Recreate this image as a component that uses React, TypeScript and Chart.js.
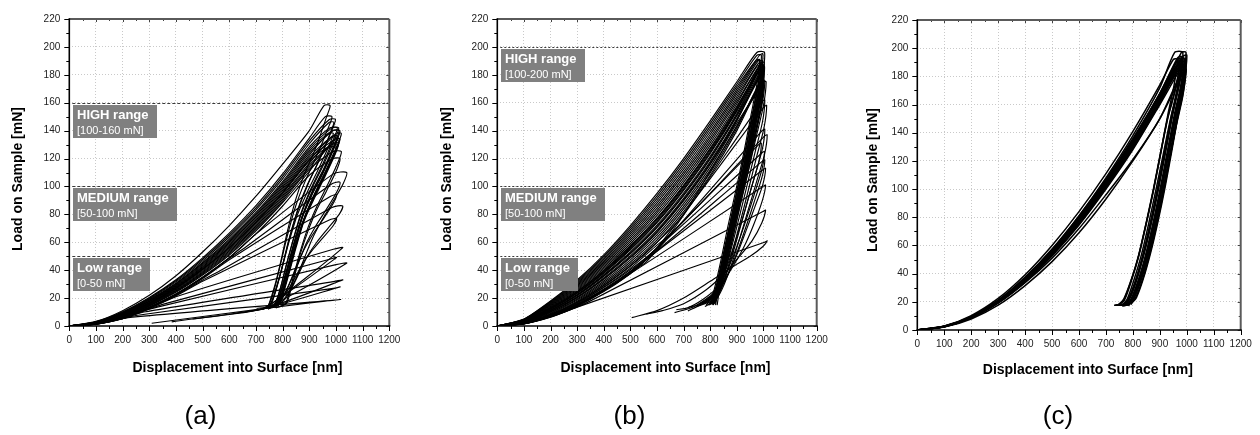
import React, { useEffect, useRef } from 'react';
import { Chart, registerables } from 'chart.js';

Chart.register(...registerables);

type Pt = [number, number];

// ---------------- shared text / axis values ----------------
const xAxisTitle = 'Displacement into Surface [nm]';
const yAxisTitle = 'Load on Sample [mN]';
const xMin = 0;
const xMax = 1200;
const xStep = 100;
const yMin = 0;
const yMax = 220;
const yStep = 20;
const rangeTitles = ['HIGH range', 'MEDIUM range', 'Low range'];
const rangeLevelsA = [160, 100, 50];
const rangeSpansA = ['[100-160 mN]', '[50-100 mN]', '[0-50 mN]'];
const rangeLevelsB = [200, 100, 50];
const rangeSpansB = ['[100-200 mN]', '[50-100 mN]', '[0-50 mN]'];
const panelLetters = ['(a)', '(b)', '(c)'];

// ---------------- panel (a) curves: [displacement nm, load mN] ----------------
const a01: Pt[] = [[0,0],[100,3.3],[200,11],[300,22],[400,36],[500,53],[600,72],[700,93],[800,116],[900,140],[955,158],[978,158],[965,150],[925,128],[882,109],[848,90],[818,68],[794,47],[775,32],[758,21],[746,14]];
const a02: Pt[] = [[0,0],[100,2.95],[200,9.8],[300,19.9],[400,32.4],[500,47.8],[600,65.2],[700,84.7],[800,107.3],[900,132.7],[975,148],[998,148],[984,140],[940,120],[896,102],[859,84],[827,64],[801,44],[781,30],[764,19],[752,14]];
const a03: Pt[] = [[0,0],[100,2.7],[200,9.15],[300,18.8],[400,30.7],[500,45.5],[600,62.3],[700,81.4],[800,103.5],[900,128.3],[978,142],[1010,142],[996,134],[952,115],[908,98],[871,81],[839,61],[813,43],[793,28],[776,18],[762,13]];
const a04: Pt[] = [[0,0],[100,2.5],[200,8.7],[300,18],[400,29.6],[500,44],[600,60.4],[700,79.2],[800,101],[900,125.4],[985,140],[1015,140],[1001,132],[957,113],[913,97],[876,80],[844,60],[818,42],[798,28],[781,18],[767,14]];
const a05: Pt[] = [[0,0],[100,2.35],[200,8.25],[300,17.3],[400,28.5],[500,42.5],[600,58.5],[700,77],[800,98.5],[900,122.5],[972,138],[990,138],[976,130],[933,112],[890,95],[854,79],[822,59],[797,41],[777,28],[760,18],[746,13]];
const a06: Pt[] = [[0,0],[100,2.27],[200,8.03],[300,16.9],[400,27.95],[500,41.75],[600,57.55],[700,75.9],[800,97.25],[900,121],[980,135],[1005,135],[991,127],[949,109],[907,93],[871,77],[840,58],[815,40],[796,27],[779,17],[766,13]];
const a07: Pt[] = [[0,0],[100,2.18],[200,7.8],[300,16.5],[400,27.4],[500,41],[600,56.6],[700,74.8],[800,96],[900,119.6],[990,133],[1012,133],[998,125],[956,108],[914,92],[879,76],[849,57],[825,40],[806,27],[790,17],[782,14]];
const a08: Pt[] = [[0,0],[100,2.1],[200,7.6],[300,16.1],[400,26.85],[500,40.25],[600,55.65],[700,73.7],[800,94.75],[900,118.15],[985,130],[1005,130],[992,122],[951,105],[910,90],[875,74],[845,56],[821,39],[802,26],[786,17],[772,13]];
const a09: Pt[] = [[0,0],[100,2.01],[200,7.35],[300,15.75],[400,26.3],[500,39.5],[600,54.7],[700,72.6],[800,93.5],[900,116.7],[1000,138],[1020,138],[1006,130],[963,112],[920,95],[884,79],[852,59],[827,41],[807,28],[790,18],[782,15]];
const a10: Pt[] = [[0,0],[100,1.93],[200,7.1],[300,15.4],[400,25.75],[500,38.75],[600,53.75],[700,71.5],[800,92.25],[900,115.25],[990,131],[1010,131],[997,123],[956,106],[915,90],[880,75],[850,56],[826,39],[807,26],[791,17],[745,12]];
const a11: Pt[] = [[0,0],[100,1.84],[200,6.9],[300,15],[400,25.2],[500,38],[600,52.8],[700,70.4],[800,91],[900,113.8],[975,128],[1000,128],[987,120],[947,104],[907,88],[873,73],[844,55],[820,38],[802,26],[786,17],[762,13]];
const a12: Pt[] = [[0,0],[100,1.76],[200,6.7],[300,14.6],[400,24.65],[500,37.25],[600,51.85],[700,69.3],[800,89.75],[900,112.35],[990,125],[1020,125],[1007,117],[968,101],[929,86],[896,71],[867,54],[844,38],[826,25],[811,16],[790,14]];
const a13: Pt[] = [[0,0],[100,1.67],[200,6.45],[300,14.25],[400,24.1],[500,36.5],[600,50.9],[700,68.2],[800,88.5],[900,110.9],[995,134],[1015,134],[1001,126],[959,109],[917,92],[881,76],[850,58],[825,40],[806,27],[790,17],[726,12]];
const a14: Pt[] = [[0,0],[100,1.5],[200,6],[300,13.5],[400,23],[500,35],[600,49],[700,66],[800,86],[900,108],[990,120],[1015,120],[1003,112],[965,97],[927,83],[895,68],[867,52],[845,36],[828,24],[814,16],[775,13]];
const a15: Pt[] = [[0,0],[100,1.5],[200,6],[300,13.5],[400,23],[500,35],[600,49],[700,66],[990,109],[1040,110],[1027,102],[985,88],[945,75],[910,62],[878,47],[850,34],[822,24],[795,17],[765,14]];
const a16: Pt[] = [[0,0],[100,1.5],[200,6],[300,13.4],[400,22.8],[500,34.6],[600,48.5],[650,55],[985,102],[1015,103],[1003,96],[962,83],[922,71],[888,59],[857,44],[830,32],[805,22],[782,16],[762,14]];
const a17: Pt[] = [[0,0],[100,1.45],[200,5.9],[300,13.2],[400,22.5],[500,34],[600,47.5],[980,93],[1002,94],[990,88],[950,76],[911,65],[878,54],[848,41],[822,29],[798,20],[776,15],[752,13]];
const a18: Pt[] = [[0,0],[100,1.4],[200,5.8],[300,13],[400,22],[500,33],[550,38],[985,85],[1025,86],[1012,80],[970,70],[928,60],[893,50],[862,38],[834,27],[808,19],[782,15],[742,13]];
const a19: Pt[] = [[0,0],[100,1.4],[200,5.7],[300,12.8],[400,21.5],[500,32],[975,76],[1002,77],[990,72],[950,63],[910,54],[876,45],[845,34],[817,25],[790,18],[762,14],[722,12]];
const a20: Pt[] = [[0,0],[100,1.4],[200,5.6],[300,12.5],[400,21],[990,55],[1025,56],[745,14],[702,12.7]];
const a21: Pt[] = [[0,0],[100,1.35],[200,5.5],[300,12.2],[350,15.5],[980,48],[1002,49],[732,13],[659,10]];
const a22: Pt[] = [[0,0],[100,1.3],[200,5.4],[300,12],[330,13.5],[1000,44],[1040,45],[737,13],[615,9]];
const a23: Pt[] = [[0,0],[100,1.3],[200,5.3],[280,10],[995,32],[1025,33],[722,12],[462,5]];
const a24: Pt[] = [[0,0],[100,1.25],[200,5.2],[250,7.5],[990,27],[1015,28],[716,12],[384,3]];
const a25: Pt[] = [[0,0],[100,1.2],[220,6],[995,18.5],[1017,19],[750,13],[309,2]];
const a26: Pt[] = [[0,0],[100,3.06],[200,10.14],[300,20.4],[400,33.1],[500,48.8],[600,66.5],[700,86.2],[800,109],[900,134.7],[960,150],[985,150],[971,142],[928,122],[885,104],[849,86],[818,65],[793,45],[774,30],[757,19],[745,14]];
const a27: Pt[] = [[0,0],[100,2.83],[200,9.51],[300,19.35],[400,31.6],[500,46.7],[600,63.8],[700,83.2],[800,105.5],[900,130.6],[975,146],[992,146],[978,138],[935,118],[892,101],[856,83],[825,63],[800,44],[780,29],[763,19],[750,14]];
const a28: Pt[] = [[0,0],[100,2.6],[200,8.93],[300,18.4],[400,30.15],[500,44.75],[600,61.35],[700,80.3],[800,102.25],[900,126.85],[985,142],[1005,142],[991,134],[948,115],[905,98],[869,81],[838,61],[813,43],[793,28],[777,18],[765,13]];
const a29: Pt[] = [[0,0],[100,2.44],[200,8.48],[300,17.6],[400,29.05],[500,43.25],[600,59.45],[700,78.1],[800,99.75],[900,123.95],[990,140],[1012,140],[998,132],[955,113],[912,97],[876,80],[845,60],[820,42],[800,28],[784,18],[771,14]];
const a30: Pt[] = [[0,0],[100,2.15],[200,7.71],[300,16.35],[400,27.2],[500,40.7],[600,56.2],[700,74.4],[800,95.5],[900,119],[985,136],[1008,136],[994,128],[952,110],[910,94],[875,78],[845,58],[820,41],[801,27],[785,17],[758,13]];

// ---------------- panel (b) curves ----------------
const b01: Pt[] = [[0,0],[100,5],[200,18],[300,33],[400,51],[500,72],[600,95],[700,120],[800,147],[900,175],[975,196],[1004,196],[995,178],[972,155],[945,128],[915,100],[885,72],[858,47],[835,28],[818,16]];
const b02: Pt[] = [[0,0],[100,4.7],[200,17],[300,31.4],[400,48.8],[500,69.1],[600,91.5],[700,116.2],[800,143.1],[900,171.5],[970,190],[985,191],[976,174],[953,151],[926,124],[896,97],[866,71],[839,46],[816,27],[799,16]];
const b03: Pt[] = [[0,0],[100,4.4],[200,16],[300,29.8],[400,46.6],[500,66.2],[600,88],[700,112.4],[800,139.2],[900,168],[975,190],[990,190],[981,173],[958,150],[931,124],[901,97],[871,70],[844,46],[821,27],[804,16]];
const b04: Pt[] = [[0,0],[100,4.1],[200,15],[300,28.2],[400,44.4],[500,63.3],[600,84.5],[700,108.6],[800,135.3],[900,164.5],[980,188],[995,189],[986,172],[963,149],[936,123],[906,96],[876,70],[849,45],[826,26],[809,16]];
const b05: Pt[] = [[0,0],[100,3.8],[200,14],[300,26.6],[400,42.2],[500,60.4],[600,81],[700,104.8],[800,131.4],[900,161],[985,186],[998,186],[989,169],[966,147],[939,121],[909,95],[879,69],[852,45],[829,26],[812,16]];
const b06: Pt[] = [[0,0],[100,3.5],[200,13],[300,25],[400,40],[500,57.5],[600,77.5],[700,101],[800,127.5],[900,157.5],[985,184],[998,185],[989,168],[966,146],[939,120],[909,94],[879,68],[852,44],[829,26],[812,15]];
const b07: Pt[] = [[0,0],[100,3.35],[200,12.5],[300,24.2],[400,38.9],[500,56.05],[600,75.75],[700,99.1],[800,125.55],[900,155.75],[990,188],[1003,189],[994,172],[971,149],[944,123],[914,96],[884,70],[857,45],[834,26],[817,16]];
const b08: Pt[] = [[0,0],[100,3.2],[200,12],[300,23.4],[400,37.8],[500,54.6],[600,74],[700,97.2],[800,123.6],[900,154],[980,182],[990,183],[981,167],[958,145],[931,119],[901,93],[871,68],[844,44],[821,26],[790,16]];
const b09: Pt[] = [[0,0],[100,3.05],[200,11.5],[300,22.6],[400,36.7],[500,53.15],[600,72.25],[700,95.3],[800,121.65],[900,152.25],[990,185],[1000,186],[991,169],[968,147],[941,121],[911,95],[881,69],[854,45],[831,26],[780,16]];
const b10: Pt[] = [[0,0],[100,2.9],[200,11],[300,21.8],[400,35.6],[500,51.7],[600,70.5],[700,93.4],[800,119.7],[900,150.5],[990,180],[1002,181],[993,165],[970,143],[943,118],[913,92],[883,67],[856,43],[833,25],[816,17]];
const b11: Pt[] = [[0,0],[100,2.75],[200,10.5],[300,21],[400,34.5],[500,50.25],[600,68.75],[700,91.5],[800,117.75],[900,148.75],[980,178],[992,178],[983,162],[960,141],[933,116],[903,91],[873,66],[846,43],[823,25],[770,16]];
const b12: Pt[] = [[0,0],[100,2.6],[200,10],[300,20.2],[400,33.4],[500,48.8],[600,67],[700,89.6],[800,115.8],[900,147],[985,180],[995,181],[986,165],[963,143],[936,118],[906,92],[876,67],[849,43],[826,25],[809,16]];
const b13: Pt[] = [[0,0],[100,2.3],[200,9],[300,18.6],[400,31.2],[500,45.9],[600,63.5],[700,85.8],[800,111.9],[900,143.5],[995,176],[1005,176],[996,160],[973,139],[946,114],[916,90],[886,65],[859,42],[836,25],[800,16]];
const b14: Pt[] = [[0,0],[100,2],[200,8],[300,17],[400,29],[500,43],[600,60],[700,82],[800,108],[900,140],[990,175],[1000,175],[991,159],[968,138],[941,114],[911,89],[881,65],[854,42],[831,25],[762,16]];
const b15: Pt[] = [[0,0],[100,2],[200,8],[300,17],[400,29],[500,43],[600,60],[700,80],[1000,175],[1010,175],[1000,158],[972,135],[942,110],[911,85],[879,58],[850,36],[827,22],[820,15]];
const b16: Pt[] = [[0,0],[100,1.9],[200,7.8],[300,16.5],[400,28],[500,41.5],[600,58],[650,66],[995,161],[1005,162],[996,146],[969,125],[940,102],[909,78],[877,54],[848,34],[825,21],[806,15]];
const b17: Pt[] = [[0,0],[100,1.9],[200,7.6],[300,16],[400,27.5],[500,40.5],[600,56],[1002,157],[1012,158],[1002,142],[974,121],[944,98],[912,74],[880,51],[850,32],[825,20],[796,15]];
const b18: Pt[] = [[0,0],[100,1.8],[200,7.4],[300,15.6],[400,26.5],[500,39],[560,46],[995,140],[1005,141],[996,127],[968,108],[938,88],[906,66],[874,45],[844,28],[814,18],[780,14]];
const b19: Pt[] = [[0,0],[100,1.8],[200,7.2],[300,15.2],[400,26],[530,42],[1004,136],[1014,137],[1004,123],[975,104],[944,84],[911,63],[878,43],[846,27],[818,18],[790,15]];
const b20: Pt[] = [[0,0],[100,1.7],[200,7],[300,15],[400,25.5],[500,37.5],[982,130],[992,131],[983,118],[956,100],[926,80],[893,60],[860,41],[826,26],[790,17],[750,14]];
const b21: Pt[] = [[0,0],[100,1.7],[200,6.9],[300,14.6],[460,32],[995,118],[1005,119],[995,107],[967,90],[936,72],[903,54],[867,37],[828,24],[772,16],[720,13.6]];
const b22: Pt[] = [[0,0],[100,1.6],[200,6.8],[300,14.3],[430,29],[998,112],[1008,113],[997,101],[967,85],[934,68],[900,51],[862,35],[820,23],[762,15],[716,10.8]];
const b23: Pt[] = [[0,0],[100,1.6],[200,6.6],[300,14],[400,25],[998,100],[1008,101],[996,90],[962,72],[925,56],[880,41],[830,28],[772,19],[715,13],[673,11.7]];
const b24: Pt[] = [[0,0],[100,1.5],[200,6.4],[300,13.6],[350,18],[998,82],[1008,83],[994,74],[957,61],[910,50],[855,38],[785,26],[700,16],[620,11],[560,8.4]];
const b25: Pt[] = [[0,0],[100,1.5],[200,6.3],[300,13.5],[1004,60],[1014,61],[998,57],[950,50],[880,42],[800,32],[700,20],[600,11],[505,6]];
const b26: Pt[] = [[0,0],[100,2.45],[200,9.5],[300,19.4],[400,32.3],[500,47.35],[600,65.25],[700,87.7],[800,113.85],[900,145.25],[985,170],[998,171],[988,154],[961,132],[932,108],[902,83],[870,58],[840,37],[808,22],[747,14]];
const b27: Pt[] = [[0,0],[100,1.7],[200,7.1],[300,15],[480,36],[994,124],[1004,125],[994,112],[965,94],[933,75],[898,56],[860,38],[815,24],[740,14],[666,9.6]];
const b28: Pt[] = [[0,0],[100,4.55],[200,16.5],[300,30.6],[400,47.7],[500,67.65],[600,89.75],[700,114.3],[800,141.15],[900,169.75],[985,194],[998,195],[989,177],[966,154],[939,127],[909,99],[879,72],[852,47],[829,27],[812,16]];
const b29: Pt[] = [[0,0],[100,3.95],[200,14.5],[300,27.4],[400,43.3],[500,61.85],[600,82.75],[700,106.7],[800,133.35],[900,162.75],[975,186],[988,187],[979,170],[956,148],[929,122],[899,95],[869,69],[842,45],[819,26],[802,16]];
const b30: Pt[] = [[0,0],[100,4.85],[200,17.5],[300,32.2],[400,49.9],[500,70.55],[600,93.25],[700,118.1],[800,145.05],[900,173.25],[975,194],[992,194],[983,177],[960,154],[933,127],[903,99],[873,72],[846,47],[823,27],[806,16]];
const b31: Pt[] = [[0,0],[100,4.25],[200,15.5],[300,29],[400,45.5],[500,64.75],[600,86.25],[700,110.5],[800,137.25],[900,166.25],[980,190],[996,190],[987,173],[964,150],[937,124],[907,97],[877,70],[850,46],[827,27],[810,16]];
const b32: Pt[] = [[0,0],[100,3.65],[200,13.5],[300,25.8],[400,41.1],[500,58.95],[600,79.25],[700,102.9],[800,129.45],[900,159.25],[985,187],[1000,187],[991,170],[968,148],[941,122],[911,95],[881,69],[854,45],[831,26],[814,16]];
const b33: Pt[] = [[0,0],[100,3.44],[200,12.8],[300,24.7],[400,39.56],[500,56.92],[600,76.8],[700,100.24],[800,126.72],[900,156.8],[990,186],[1004,186],[995,169],[972,147],[945,121],[915,95],[885,69],[858,45],[835,26],[826,15]];
const b34: Pt[] = [[0,0],[100,3.26],[200,12.2],[300,23.7],[400,38.24],[500,55.18],[600,74.7],[700,97.96],[800,124.38],[900,154.7],[985,184],[995,184],[986,167],[963,145],[936,120],[906,94],[876,68],[849,44],[826,26],[785,15]];
const b35: Pt[] = [[0,0],[100,2.96],[200,11.2],[300,22.1],[400,36.04],[500,52.28],[600,71.2],[700,94.16],[800,120.48],[900,151.2],[990,183],[1000,183],[991,167],[968,145],[941,119],[911,93],[881,68],[854,44],[831,26],[814,16]];
const b36: Pt[] = [[0,0],[100,2.66],[200,10.2],[300,20.5],[400,33.84],[500,49.38],[600,67.7],[700,90.36],[800,116.58],[900,147.7],[985,178],[998,178],[989,162],[966,141],[939,116],[909,91],[879,66],[852,43],[829,25],[795,16]];
const b37: Pt[] = [[0,0],[100,2.15],[200,8.5],[300,17.8],[400,30.1],[500,44.45],[600,61.75],[700,83.9],[800,109.95],[900,141.75],[990,176],[1002,176],[993,160],[970,139],[943,114],[913,90],[883,65],[856,42],[833,25],[775,16]];

// ---------------- panel (c) curves ----------------
const c01: Pt[] = [[0,0],[100,2.6],[200,9.5],[300,21],[400,37],[500,57],[600,81],[700,108],[800,138],[900,172],[955,197],[985,197],[973,176],[950,155],[925,130],[897,102],[870,77],[843,55],[815,36],[790,23],[770,18],[758,17.5]];
const c02: Pt[] = [[0,0],[100,2.4],[200,9],[300,20],[400,35],[500,54],[600,77],[700,103],[800,132],[900,164],[975,192],[990,193],[978,174],[955,154],[930,129],[902,101],[875,76],[848,54],[820,35],[795,22],[775,18],[765,17.5]];
const c03: Pt[] = [[0,0],[100,2.5],[200,9.2],[300,20.5],[400,36],[500,55],[600,78],[700,104],[800,133],[900,166],[970,190],[985,190],[970,172],[942,152],[915,127],[886,100],[858,75],[831,53],[803,35],[779,22],[759,18],[738,17.5]];
const c04: Pt[] = [[0,0],[100,2.3],[200,8.7],[300,19.5],[400,34.5],[500,53],[600,75],[700,101],[800,129],[900,161],[980,190],[995,191],[983,173],[960,153],[935,128],[907,100],[880,75],[853,53],[825,35],[800,22],[780,18],[770,17.5]];
const c05: Pt[] = [[0,0],[100,2.4],[200,9],[300,20],[400,35.5],[500,54.5],[600,77],[700,103],[800,132],[900,165],[980,197],[997,197],[987,178],[968,156],[945,130],[918,102],[891,77],[864,55],[836,36],[810,23],[790,19],[784,17]];
const c06: Pt[] = [[0,0],[100,2.5],[200,9.3],[300,20.7],[400,36.5],[500,56],[600,79],[700,105],[800,134],[900,167],[965,188],[978,188],[966,170],[943,150],[918,125],[890,98],[863,74],[836,52],[808,34],[783,22],[763,18],[750,17.5]];
const c07: Pt[] = [[0,0],[100,2.3],[200,8.6],[300,19.2],[400,34],[500,52.5],[600,74.5],[700,100],[800,128],[900,160],[985,188],[998,189],[986,171],[963,151],[938,126],[910,98],[883,74],[856,52],[828,34],[803,22],[785,18.5],[780,17.5]];
const c08: Pt[] = [[0,0],[100,2.6],[200,9.6],[300,21.2],[400,37.5],[500,57.5],[600,81],[700,107],[800,136],[900,168],[960,190],[975,191],[960,173],[932,153],[905,128],[876,100],[848,75],[821,53],[793,35],[768,22],[748,18],[730,17.5]];
const c09: Pt[] = [[0,0],[100,2.4],[200,8.9],[300,19.8],[400,35],[500,54],[600,76],[700,102],[800,130],[900,162],[985,194],[1000,195],[990,176],[970,155],[947,130],[920,102],[893,77],[866,55],[838,36],[813,23],[796,19],[792,18]];
const c10: Pt[] = [[0,0],[100,2.5],[200,9.1],[300,20.2],[400,35.8],[500,55],[600,77.5],[700,104],[800,132],[900,163],[975,186],[988,187],[976,169],[953,149],[928,124],[900,97],[873,73],[846,51],[818,34],[793,22],[773,18],[760,17.5]];
const c11: Pt[] = [[0,0],[100,2.3],[200,8.8],[300,19.6],[400,34.8],[500,53.5],[600,76],[700,101.5],[800,130],[900,162.5],[978,192],[992,192],[980,174],[957,153],[932,128],[904,100],[877,75],[850,53],[822,35],[797,22],[777,18],[768,17.5]];
const c12: Pt[] = [[0,0],[100,2.6],[200,9.4],[300,20.8],[400,36.8],[500,56.5],[600,80],[700,106],[800,135],[900,168],[965,193],[980,194],[968,175],[945,154],[920,129],[892,101],[865,76],[838,54],[810,35],[785,22],[765,18],[752,17.5]];
const c13: Pt[] = [[0,0],[100,2.3],[200,8.5],[300,19],[400,33.5],[500,51],[600,72],[700,96],[800,121],[900,150],[985,182],[995,183],[985,166],[962,146],[937,122],[909,96],[882,72],[855,51],[827,34],[802,22],[782,18],[776,17.5]];
const c14: Pt[] = [[0,0],[100,2.5],[200,9.2],[300,20.4],[400,36.2],[500,55.5],[600,78.5],[700,105],[800,134],[900,167],[968,192],[982,193],[970,175],[947,154],[922,129],[894,101],[867,76],[840,54],[812,35],[787,22],[767,18],[748,17.5]];
const c15: Pt[] = [[0,0],[100,2.4],[200,9],[300,20],[400,35.5],[500,54.5],[600,77],[700,103],[800,131],[900,163],[982,190],[994,190],[983,172],[960,152],[935,127],[907,99],[880,75],[853,53],[825,35],[800,22],[782,18],[772,17.5]];
const c16: Pt[] = [[0,0],[100,2.5],[200,9.3],[300,20.6],[400,36.4],[500,56],[600,79],[700,105.5],[800,134.5],[900,167.5],[960,187],[972,188],[957,170],[929,150],[903,125],[874,97],[846,73],[819,51],[791,34],[766,22],[746,18],[734,17.5]];
const c17: Pt[] = [[0,0],[100,2.1],[200,7.8],[300,17.6],[400,31.5],[500,48.5],[600,69],[700,93],[800,120],[900,150],[985,185],[998,185],[986,168],[963,148],[938,123],[908,95],[878,70],[850,49],[820,32],[793,21],[773,17.5],[760,17]];
const c18: Pt[] = [[0,0],[100,2.8],[200,10.2],[300,22.4],[400,39.2],[500,60],[600,84],[700,111],[800,141],[900,174],[950,192],[965,192],[953,174],[930,153],[904,127],[876,99],[848,74],[821,52],[793,34],[768,21],[748,18],[736,17.5]];

const curvesA = [a01,a02,a03,a04,a05,a06,a07,a08,a09,a10,a11,a12,a13,a14,a15,a16,a17,a18,a19,a20,a21,a22,a23,a24,a25,a26,a27,a28,a29,a30];
const curvesB = [b01,b02,b03,b04,b05,b06,b07,b08,b09,b10,b11,b12,b13,b14,b15,b16,b17,b18,b19,b20,b21,b22,b23,b24,b25,b26,b27,b28,b29,b30,b31,b32,b33,b34,b35,b36,b37];
const curvesC = [c01,c02,c03,c04,c05,c06,c07,c08,c09,c10,c11,c12,c13,c14,c15,c16,c17,c18];

// ---------------- layout (pixels, per 420x435 panel canvas) ----------------
const FONT = '"Liberation Sans", Arial, Helvetica, sans-serif';
const PANEL_W = 420;
const PANEL_H = 435;
const X_SCALE_H = 40;

interface PanelCfg {
  curves: Pt[][];
  lineWidth: number;
  levels: number[] | null;
  spans: string[] | null;
  letter: string;
  dash: number[];
  area: { left: number; right: number; top: number; bottom: number };
  yTitlePos: [number, number];
  xTitlePos: [number, number];
  letterPos: [number, number];
}

const panels: PanelCfg[] = [
  {
    curves: curvesA, lineWidth: 1.15, levels: rangeLevelsA, spans: rangeSpansA, letter: panelLetters[0], dash: [3, 2],
    area: { left: 69.3, right: 389.3, top: 19, bottom: 326 },
    yTitlePos: [18.5, 179], xTitlePos: [237.5, 368.3], letterPos: [200.5, 417],
  },
  {
    curves: curvesB, lineWidth: 1.15, levels: rangeLevelsB, spans: rangeSpansB, letter: panelLetters[1], dash: [2, 2],
    area: { left: 77.3, right: 396.7, top: 19, bottom: 326 },
    yTitlePos: [26.7, 179], xTitlePos: [245.5, 368.3], letterPos: [209.5, 417],
  },
  {
    curves: curvesC, lineWidth: 1.5, levels: null, spans: null, letter: panelLetters[2], dash: [2, 2],
    area: { left: 77.3, right: 400.7, top: 20, bottom: 330 },
    yTitlePos: [32.7, 180], xTitlePos: [247.8, 370], letterPos: [218, 417],
  },
];

function decorPlugin(p: PanelCfg) {
  return {
    id: 'decor',
    beforeDatasetsDraw(chart: any) {
      if (!p.levels) return;
      const { ctx, chartArea: a, scales } = chart;
      ctx.save();
      ctx.strokeStyle = '#3a3a3a';
      ctx.lineWidth = 1;
      ctx.setLineDash(p.dash);
      p.levels.forEach((v) => {
        const py = Math.round(scales.y.getPixelForValue(v)) + 0.5;
        ctx.beginPath();
        ctx.moveTo(a.left + 3, py);
        ctx.lineTo(a.right, py);
        ctx.stroke();
      });
      ctx.restore();
    },
    afterDatasetsDraw(chart: any) {
      if (!p.levels || !p.spans) return;
      const { ctx, chartArea: a, scales } = chart;
      ctx.save();
      p.levels.forEach((v, i) => {
        const top = Math.round(scales.y.getPixelForValue(v)) + 2;
        const left = Math.round(a.left) + 4;
        ctx.font = `bold 13px ${FONT}`;
        const tw = ctx.measureText(rangeTitles[i]).width;
        ctx.font = `11px ${FONT}`;
        const sw = ctx.measureText(p.spans![i]).width;
        const w = Math.round(Math.max(tw, sw) + 12);
        ctx.fillStyle = '#808080';
        ctx.fillRect(left, top, w, 33);
        ctx.fillStyle = '#ffffff';
        ctx.textAlign = 'left';
        ctx.textBaseline = 'middle';
        ctx.font = `bold 13px ${FONT}`;
        ctx.fillText(rangeTitles[i], left + 4, top + 10);
        ctx.font = `11px ${FONT}`;
        ctx.fillText(p.spans![i], left + 4, top + 26);
      });
      ctx.restore();
    },
    afterDraw(chart: any) {
      const { ctx, chartArea: a, scales } = chart;
      const xs = scales.x;
      const ys = scales.y;
      ctx.save();
      const seg = (x1: number, y1: number, x2: number, y2: number) => {
        ctx.beginPath();
        ctx.moveTo(x1, y1);
        ctx.lineTo(x2, y2);
        ctx.stroke();
      };
      ctx.lineWidth = 1;
      for (let v = xMin; v <= xMax; v += xStep / 2) {
        const px = Math.round(xs.getPixelForValue(v)) + 0.5;
        const major = v % xStep === 0;
        ctx.strokeStyle = '#000';
        seg(px, a.bottom, px, a.bottom + (major ? 5 : 3));
        ctx.strokeStyle = '#444';
        seg(px, a.top, px, a.top + (major ? 3 : 2));
      }
      for (let v = yMin; v <= yMax; v += yStep / 2) {
        const py = Math.round(ys.getPixelForValue(v)) + 0.5;
        const major = v % yStep === 0;
        ctx.strokeStyle = '#000';
        seg(a.left, py, a.left - (major ? 5 : 3), py);
        ctx.strokeStyle = '#444';
        seg(a.right, py, a.right - (major ? 3 : 2), py);
      }
      ctx.strokeStyle = '#5a5a5a';
      ctx.lineWidth = 2;
      seg(a.left, a.top, a.right, a.top);
      seg(a.right, a.top, a.right, a.bottom);
      ctx.strokeStyle = '#000';
      ctx.lineWidth = 1.6;
      seg(a.left, a.top - 0.8, a.left, a.bottom + 0.8);
      seg(a.left - 0.8, a.bottom, a.right + 1, a.bottom);
      ctx.fillStyle = '#000';
      ctx.textAlign = 'center';
      ctx.textBaseline = 'middle';
      ctx.font = `bold 14px ${FONT}`;
      ctx.fillText(xAxisTitle, p.xTitlePos[0], p.xTitlePos[1]);
      ctx.save();
      ctx.translate(p.yTitlePos[0], p.yTitlePos[1]);
      ctx.rotate(-Math.PI / 2);
      ctx.fillText(yAxisTitle, 0, 0);
      ctx.restore();
      ctx.font = `26px ${FONT}`;
      ctx.fillText(p.letter, p.letterPos[0], p.letterPos[1]);
      ctx.restore();
    },
  };
}

function Panel({ cfg, offset }: { cfg: PanelCfg; offset: number }) {
  const ref = useRef<HTMLCanvasElement | null>(null);
  useEffect(() => {
    if (!ref.current) return;
    const a = cfg.area;
    const gridColor = (ctx: any) => {
      const v = ctx.tick ? ctx.tick.value : null;
      const scale = ctx.scale;
      if (v === scale.min || v === scale.max) return 'rgba(0,0,0,0)';
      return '#c9c9c9';
    };
    const plain = (v: any) => String(v);
    const chart = new Chart(ref.current, {
      type: 'scatter',
      data: {
        datasets: cfg.curves.map((c) => ({
          data: c.map(([x, y]) => ({ x, y })),
          showLine: true,
          borderColor: '#000000',
          backgroundColor: '#000000',
          borderWidth: cfg.lineWidth,
          pointRadius: 0,
          tension: 0.25,
          fill: false,
        })),
      },
      options: {
        responsive: false,
        animation: false,
        events: [],
        layout: {
          padding: {
            left: 0,
            top: a.top,
            right: PANEL_W - a.right,
            bottom: PANEL_H - a.bottom - X_SCALE_H,
          },
        },
        plugins: { legend: { display: false }, tooltip: { enabled: false } },
        scales: {
          x: {
            type: 'linear',
            min: xMin,
            max: xMax,
            afterFit: (s: any) => { s.height = X_SCALE_H; },
            ticks: { stepSize: xStep, padding: 8, autoSkip: false, maxRotation: 0, color: '#222', font: { family: FONT, size: 10 }, callback: plain },
            grid: { drawTicks: false, color: gridColor, lineWidth: 1 },
            border: { display: false, dash: [1, 2] },
          },
          y: {
            type: 'linear',
            min: yMin,
            max: yMax,
            afterFit: (s: any) => { s.width = a.left; },
            ticks: { stepSize: yStep, padding: 9, color: '#222', font: { family: FONT, size: 10 }, callback: plain },
            grid: { drawTicks: false, color: gridColor, lineWidth: 1 },
            border: { display: false, dash: [1, 2] },
          },
        },
      } as any,
      plugins: [decorPlugin(cfg)],
    });
    return () => chart.destroy();
  }, [cfg]);
  return (
    <canvas
      ref={ref}
      width={PANEL_W}
      height={PANEL_H}
      style={{ position: 'absolute', left: offset, top: 0, width: PANEL_W, height: PANEL_H, display: 'block' }}
    />
  );
}

export default function App() {
  return (
    <div style={{ position: 'fixed', left: 0, top: 0, width: 1260, height: 435, background: '#ffffff', overflow: 'hidden' }}>
      {panels.map((p, i) => (
        <Panel key={i} cfg={p} offset={i * PANEL_W} />
      ))}
    </div>
  );
}
